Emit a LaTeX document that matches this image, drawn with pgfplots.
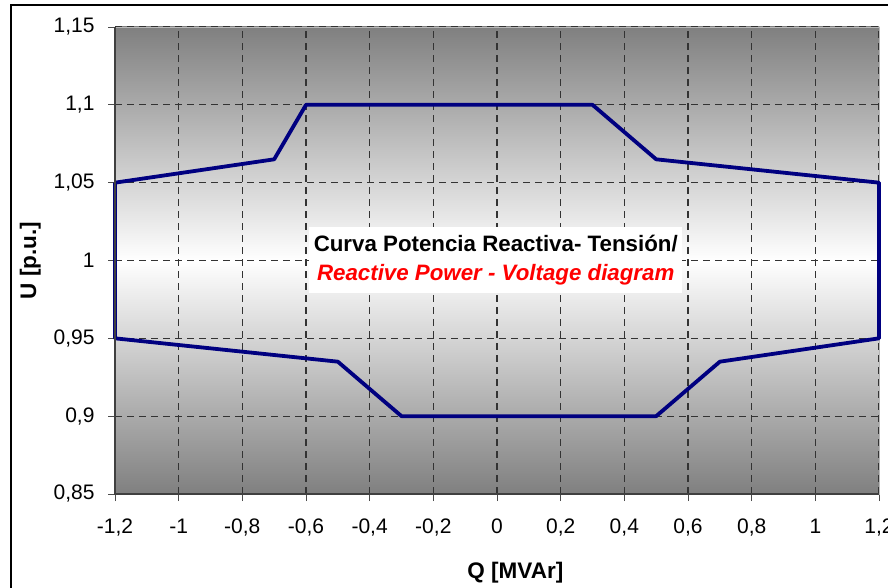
\documentclass[border=0pt]{standalone}
\usepackage{fontspec}
\setmainfont{Liberation Sans}
\usepackage{pgfplots}
\pgfplotsset{compat=1.18}
\definecolor{navyline}{RGB}{0,0,128}
\begin{document}
\begin{tikzpicture}
\begin{axis}[
  at={(115pt,94pt)}, anchor=south west,
  scale only axis, width=764pt, height=467pt,
  xmin=-1.2, xmax=1.2, ymin=0.85, ymax=1.15,
  xtick={-1.2,-1,-0.8,-0.6,-0.4,-0.2,0,0.2,0.4,0.6,0.8,1,1.2},
  xticklabels={{-1,2},{-1},{-0,8},{-0,6},{-0,4},{-0,2},{0},{0,2},{0,4},{0,6},{0,8},{1},{1,2}},
  ytick={0.85,0.9,0.95,1,1.05,1.1,1.15},
  yticklabels={{0,85},{0,9},{0,95},{1},{1,05},{1,1},{1,15}},
  xtick pos=bottom, ytick pos=left,
  tick align=outside, major tick length=7pt,
  tick style={black!70, line width=0.9pt},
  ticklabel style={font=\fontsize{21}{24}\selectfont},
  xticklabel style={yshift=-14pt, text height=15pt, text depth=5pt},
  yticklabel style={xshift=-10pt},
  grid=major,
  major grid style={black!80, line width=1.1pt, dash pattern=on 7pt off 5pt},
  axis line style={draw=gray!55, line width=0.8pt},
  axis background/.style={top color=black!50, bottom color=black!50, middle color=white},
  xlabel={\textbf{Q [MVAr]}},
  ylabel={\textbf{U [p.u.]}},
  label style={font=\fontsize{22.5}{26}\selectfont},
  xlabel style={at={(axis description cs:0.524,-0.169)}, anchor=center},
  ylabel style={at={(axis description cs:-0.111,0.5)}, anchor=center},
  clip=false,
]
\addplot[navyline, line width=3.8pt, line join=round] coordinates {
  (-1.2,1.05) (-0.7,1.065) (-0.6,1.1) (0.3,1.1) (0.5,1.065) (1.2,1.05)
  (1.2,0.95) (0.7,0.935) (0.5,0.9) (-0.3,0.9) (-0.5,0.935) (-1.2,0.95) (-1.2,1.05)
};
\draw[black!75, line width=1.2pt] (rel axis cs:0,1) -- (rel axis cs:0,0) -- (rel axis cs:1,0);
\node[fill=white, minimum width=373pt, minimum height=66pt, align=center, inner sep=0pt,
  font=\fontsize{22.3}{29}\selectfont]
  at (axis cs:-0.004,1.0)
  {\textbf{Curva Potencia Reactiva- Tensión/}\\
   \color{red}\textbf{\textit{Reactive Power - Voltage diagram}}};
\end{axis}
\draw[black, line width=1.3pt] (11pt,-20pt) rectangle (910pt,583pt);
\pgfresetboundingbox
\path[use as bounding box] (0pt,0pt) rectangle (888pt,588pt);
\end{tikzpicture}
\end{document}
